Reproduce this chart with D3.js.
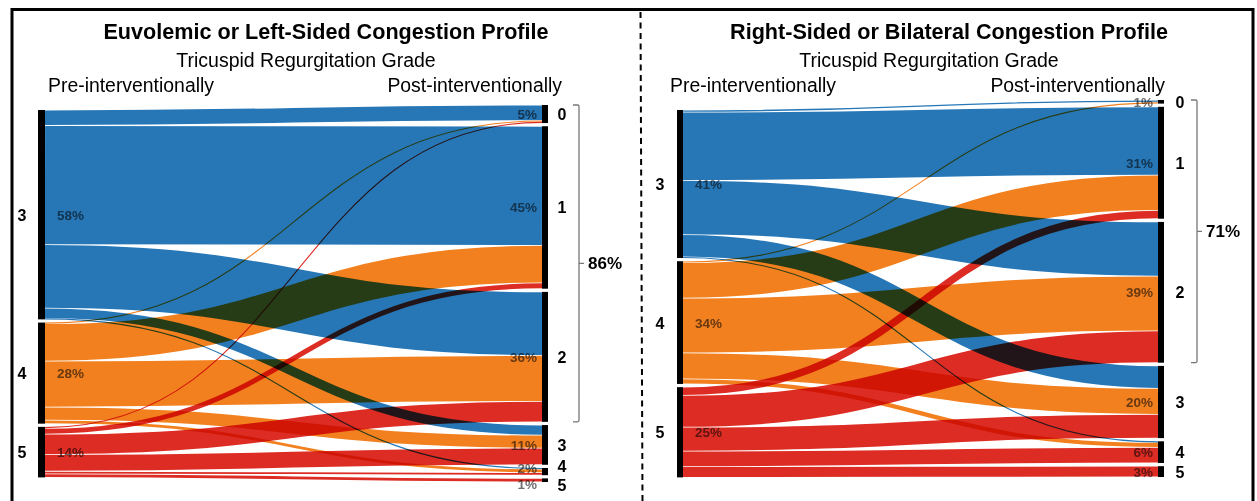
<!DOCTYPE html>
<html>
<head>
<meta charset="utf-8">
<script src="https://cdn.jsdelivr.net/npm/d3@7"></script>
<style>
  html, body { margin: 0; padding: 0; background: #fff; }
  svg { display: block; font-family: "Liberation Sans", Arial, Helvetica, sans-serif; }
  .blend { mix-blend-mode: multiply; }
</style>
</head>
<body>
<svg id="chart" width="1257" height="501"></svg>
<script>
// ---------------- DATA ----------------
const preGrades  = ["3", "4", "5"];
const postGrades = ["0", "1", "2", "3", "4", "5"];

// Euvolemic or left-sided congestion profile: % of patients from pre grade -> post grade 0..5
const leftFrom3 = [4.3, 33.0, 17.6, 2.8, 0.3, 0];
const leftFrom4 = [0.3, 10.4, 12.7, 3.6, 1.0, 0];
const leftFrom5 = [0.4, 1.6, 5.7, 4.6, 0.7, 1.0];

// Right-sided or bilateral congestion profile
const rightFrom3 = [0.6, 18.9, 15.0, 6.2, 0.3, 0];
const rightFrom4 = [0.4, 9.8, 15.2, 7.2, 1.4, 0];
const rightFrom5 = [0, 2.3, 8.8, 6.6, 4.3, 3.0];

const leftTitle  = "Euvolemic or Left-Sided Congestion Profile";
const rightTitle = "Right-Sided or Bilateral Congestion Profile";
const subTitle   = "Tricuspid Regurgitation Grade";
const preLabel   = "Pre-interventionally";
const postLabel  = "Post-interventionally";
const bracketGrades = ["0", "1", "2"];

const sourceColors = ["#2777b7", "#f2801f", "#dd2c23"];

// ---------------- LAYOUT ----------------
const svg = d3.select("#chart");
const fmt = v => d3.format(".0f")(v) + "%";

const panels = [
  { title: leftTitle, flows: [leftFrom3, leftFrom4, leftFrom5],
    titleX: 326, subX: 306, preTextX: 48, postTextX: 562,
    preBarX: 38, linkX0: 45, linkX1: 542, postBarW: 6,
    preTop: 110, postTop: 105, gradeLX: 22, gradeRX: 562,
    bracketX: 579, bracketTextX: 588 },
  { title: rightTitle, flows: [rightFrom3, rightFrom4, rightFrom5],
    titleX: 949, subX: 929, preTextX: 670, postTextX: 1165,
    preBarX: 677, linkX0: 683, linkX1: 1158, postBarW: 6,
    preTop: 110, postTop: 100, gradeLX: 660, gradeRX: 1180,
    bracketX: 1197, bracketTextX: 1206 }
];

const y = d3.scaleLinear().domain([0, 100]).range([0, 361]);
const gap = 3.2;

function relax(vals, minGap) {
  const out = vals.slice();
  for (let it = 0; it < 30; it++) {
    for (let k = 1; k < out.length; k++) {
      const d = out[k] - out[k - 1];
      if (d < minGap) { const s = (minGap - d) / 2; out[k - 1] -= s; out[k] += s; }
    }
  }
  return out;
}

// frame
svg.append("rect").attr("x", 12).attr("y", 9.5).attr("width", 1241).attr("height", 520)
  .attr("fill", "none").attr("stroke", "#000").attr("stroke-width", 3);
svg.append("line").attr("x1", 640.5).attr("x2", 642.5).attr("y1", 12).attr("y2", 501)
  .attr("stroke", "#000").attr("stroke-width", 2).attr("stroke-dasharray", "6,4.5");

const link = d3.linkHorizontal();

panels.forEach(p => {
  const g = svg.append("g");
  // texts
  g.append("text").attr("x", p.titleX).attr("y", 39).attr("text-anchor", "middle")
    .attr("font-weight", "bold").attr("font-size", 21.6).text(p.title);
  g.append("text").attr("x", p.subX).attr("y", 67).attr("text-anchor", "middle")
    .attr("font-size", 19.5).text(subTitle);
  g.append("text").attr("x", p.preTextX).attr("y", 92).attr("text-anchor", "start")
    .attr("font-size", 19.4).text(preLabel);
  g.append("text").attr("x", p.postTextX).attr("y", 92).attr("text-anchor", "end")
    .attr("font-size", 19.4).text(postLabel);

  // node sizes
  const preVals = p.flows.map(r => d3.sum(r));
  const postVals = postGrades.map((_, j) => d3.sum(p.flows, r => r[j]));
  const preNodes = []; let cy = p.preTop;
  preVals.forEach((v, i) => { preNodes.push({ y0: cy, y1: cy + y(v), v }); cy += y(v) + gap; });
  const postNodes = []; cy = p.postTop;
  postVals.forEach((v, j) => { postNodes.push({ y0: cy, y1: cy + y(v), v }); cy += y(v) + gap; });

  // links
  const links = [];
  const srcOff = preNodes.map(n => n.y0);
  const tgtOff = postNodes.map(n => n.y0);
  p.flows.forEach((row, i) => {
    row.forEach((v, j) => {
      if (v <= 0) return;
      const w = y(v);
      const sy = srcOff[i] + w / 2; srcOff[i] += w;
      links.push({ i, j, w, sy });
    });
  });
  links.sort((a, b) => a.j - b.j || a.i - b.i).forEach(l => {
    l.ty = tgtOff[l.j] + l.w / 2; tgtOff[l.j] += l.w;
  });

  const lg = g.append("g").attr("class", "links");
  lg.selectAll("path").data(links).join("path")
    .attr("class", "blend")
    .attr("d", l => link({ source: [p.linkX0, l.sy], target: [p.linkX1, l.ty] }))
    .attr("fill", "none")
    .attr("stroke", l => sourceColors[l.i])
    .attr("stroke-width", l => Math.max(l.w - 0.8, 1.1));

  // node bars
  g.selectAll("rect.pre").data(preNodes).join("rect").attr("class", "pre")
    .attr("x", p.preBarX).attr("y", n => n.y0).attr("width", p.linkX0 - p.preBarX)
    .attr("height", n => n.y1 - n.y0).attr("fill", "#000");
  g.selectAll("rect.post").data(postNodes).join("rect").attr("class", "post")
    .attr("x", p.linkX1).attr("y", n => n.y0).attr("width", p.postBarW)
    .attr("height", n => Math.max(n.y1 - n.y0, 1.5)).attr("fill", "#000");

  // percentage labels
  g.selectAll("text.prepct").data(preNodes).join("text").attr("class", "prepct blend")
    .attr("x", p.linkX0 + 12).attr("y", n => (n.y0 + n.y1) / 2 + 5)
    .attr("font-size", 13.5).attr("font-weight", "bold").attr("fill", "#707070").text(n => fmt(n.v));
  const py = relax(postNodes.map(n => (n.y0 + n.y1) / 2), 16);
  g.selectAll("text.postpct").data(postNodes).join("text").attr("class", "postpct blend")
    .attr("x", p.linkX1 - 5).attr("y", (n, j) => py[j] + 5)
    .attr("text-anchor", "end")
    .attr("font-size", 13.5).attr("font-weight", "bold").attr("fill", "#707070").text(n => fmt(n.v));

  // grade labels
  g.selectAll("text.pregrade").data(preNodes).join("text").attr("class", "pregrade")
    .attr("x", p.gradeLX).attr("y", (n) => (n.y0 + n.y1) / 2 + 6).attr("text-anchor", "middle")
    .attr("font-weight", "bold").attr("font-size", 16).text((n, i) => preGrades[i]);

  const ly = relax(postNodes.map(n => (n.y0 + n.y1) / 2), 19);
  g.selectAll("text.postgrade").data(postNodes).join("text").attr("class", "postgrade")
    .attr("x", p.gradeRX).attr("y", (n, j) => ly[j] + 6).attr("text-anchor", "middle")
    .attr("font-weight", "bold").attr("font-size", 16).text((n, j) => postGrades[j]);

  // bracket over grades 0-2
  const bIdx = bracketGrades.map(gr => postGrades.indexOf(gr));
  const bTop = postNodes[d3.min(bIdx)].y0;
  const bBot = postNodes[d3.max(bIdx)].y1;
  const bMid = (bTop + bBot) / 2;
  const bx = p.bracketX;
  g.append("path")
    .attr("d", `M${bx - 6},${bTop} L${bx - 1.5},${bTop} Q${bx},${bTop} ${bx},${bTop + 1.5} L${bx},${bBot - 1.5} Q${bx},${bBot} ${bx - 1.5},${bBot} L${bx - 6},${bBot} M${bx},${bMid} L${bx + 5},${bMid}`)
    .attr("fill", "none").attr("stroke", "#777").attr("stroke-width", 1.3);
  const bSum = d3.sum(bIdx, j => postVals[j]);
  g.append("text").attr("x", p.bracketTextX).attr("y", bMid + 6)
    .attr("font-weight", "bold").attr("font-size", 17).text(fmt(bSum));
});
</script>
</body>
</html>
